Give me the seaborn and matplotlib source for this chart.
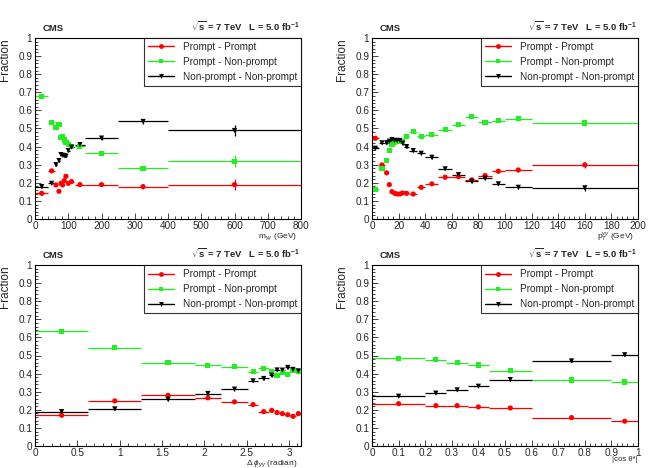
import pandas as pd
import matplotlib
matplotlib.use("Agg")
import matplotlib.pyplot as plt
from matplotlib.lines import Line2D
from matplotlib.ticker import MultipleLocator, FormatStrFormatter
import seaborn as sns

sns.set_theme(style="white")
plt.rcParams.update({
    'font.family': ['Liberation Sans', 'DejaVu Sans'],
    'font.size': 7,
    'mathtext.fontset': 'custom',
    'mathtext.rm': 'Liberation Sans',
    'mathtext.it': 'Liberation Sans:italic',
    'mathtext.bf': 'Liberation Sans:bold',
})

SERIES = ["Prompt - Prompt", "Prompt - Non-prompt", "Non-prompt - Non-prompt"]
COLORS = {"Prompt - Prompt": "#ff0000", "Prompt - Non-prompt": "#22ee22",
          "Non-prompt - Non-prompt": "#000000"}
MARKERS = {"Prompt - Prompt": "o", "Prompt - Non-prompt": "s",
           "Non-prompt - Non-prompt": "v"}

# --- panel 1: diphoton mass
mgg_x = [20, 50, 63, 72, 78, 83, 88, 93, 100, 110, 135, 200, 325, 600]
mgg_xerr = [20, 10, 3, 3, 2.5, 2.5, 2.5, 2.5, 5, 6, 15, 50, 75, 200]
mgg_pp = [0.142, 0.266, 0.188, 0.153, 0.197, 0.188, 0.212, 0.236, 0.197, 0.207, 0.190, 0.190, 0.179, 0.190]
mgg_pf = [0.679, 0.535, 0.507, 0.522, 0.452, 0.456, 0.437, 0.424, 0.411, 0.400, 0.402, 0.362, 0.280, 0.319]
mgg_ff = [0.179, 0.197, 0.300, 0.323, 0.356, 0.352, 0.350, 0.347, 0.378, 0.397, 0.411, 0.447, 0.539, 0.489]
mgg_yerr = [0.008, 0.006, 0.006, 0.006, 0.005, 0.005, 0.005, 0.005, 0.005, 0.005, 0.006, 0.008, 0.012, 0.032]

# --- panel 2: diphoton pT
pt_x = [2.5, 7.5, 11, 13, 15, 17, 19, 21, 23, 26, 31, 37, 45, 55, 65, 75, 85, 95, 110, 160]
pt_xerr = [2.5, 2.5, 1, 1, 1, 1, 1, 1, 1, 2, 3, 3, 5, 5, 5, 5, 5, 5, 10, 40]
pt_pp = [0.446, 0.299, 0.255, 0.190, 0.151, 0.142, 0.138, 0.138, 0.144, 0.142, 0.138, 0.175, 0.194,
         0.231, 0.234, 0.216, 0.240, 0.264, 0.271, 0.299]
pt_pf = [0.164, 0.280, 0.323, 0.378, 0.411, 0.424, 0.428, 0.428, 0.428, 0.458, 0.483, 0.458, 0.465,
         0.493, 0.520, 0.566, 0.535, 0.544, 0.554, 0.530]
pt_ff = [0.391, 0.421, 0.421, 0.430, 0.439, 0.434, 0.434, 0.434, 0.419, 0.400, 0.378, 0.363, 0.341,
         0.277, 0.245, 0.208, 0.225, 0.194, 0.175, 0.172]
pt_yerr = [0.008] * 18 + [0.012, 0.015]

# --- panel 3: delta phi
dphi_x = [0.314, 0.942, 1.571, 2.042, 2.356, 2.576, 2.701, 2.796, 2.859, 2.922, 2.985, 3.047, 3.110]
dphi_xerr = [0.314, 0.314, 0.314, 0.157, 0.157, 0.063, 0.063, 0.031, 0.031, 0.031, 0.031, 0.031, 0.031]
dphi_pp = [0.170, 0.249, 0.280, 0.266, 0.244, 0.229, 0.190, 0.197, 0.185, 0.179, 0.173, 0.164, 0.179]
dphi_pf = [0.633, 0.542, 0.461, 0.445, 0.439, 0.410, 0.430, 0.410, 0.390, 0.404, 0.393, 0.415, 0.410]
dphi_ff = [0.190, 0.205, 0.258, 0.290, 0.314, 0.360, 0.373, 0.391, 0.420, 0.419, 0.434, 0.423, 0.415]
dphi_yerr = [0.008] * 13

# --- panel 4: |cos theta*|
cos_x = [0.10, 0.24, 0.32, 0.40, 0.52, 0.75, 0.95]
cos_xerr = [0.10, 0.04, 0.04, 0.04, 0.08, 0.15, 0.05]
cos_pp = [0.234, 0.223, 0.223, 0.216, 0.210, 0.157, 0.137]
cos_pf = [0.485, 0.476, 0.461, 0.448, 0.415, 0.365, 0.354]
cos_ff = [0.275, 0.292, 0.310, 0.330, 0.367, 0.470, 0.504]
cos_yerr = [0.006] * 7

panels = [
    dict(x=mgg_x, xerr=mgg_xerr, yerr=mgg_yerr, vals=[mgg_pp, mgg_pf, mgg_ff],
         xlim=(0, 800), major=100, minor=20, labx=0.985, laby=-0.066, labsize=6,
         xlabel=r"m$_{\gamma\gamma}$ (GeV)", pos=(35, 38)),
    dict(x=pt_x, xerr=pt_xerr, yerr=pt_yerr, vals=[pt_pp, pt_pf, pt_ff],
         xlim=(0, 200), major=20, minor=4, labx=0.985, laby=-0.066, labsize=6,
         xlabel=r"p$_{T}^{\gamma\gamma}$ (GeV)", pos=(372, 38)),
    dict(x=dphi_x, xerr=dphi_xerr, yerr=dphi_yerr, vals=[dphi_pp, dphi_pf, dphi_ff],
         xlim=(0, 3.1416), major=0.5, minor=0.1, labx=0.985, laby=-0.066, labsize=6,
         xlabel=r"$\Delta$ $\phi_{\gamma\gamma}$ (radian)", pos=(35, 265)),
    dict(x=cos_x, xerr=cos_xerr, yerr=cos_yerr, vals=[cos_pp, cos_pf, cos_ff],
         xlim=(0, 1), major=0.1, minor=0.02, labx=1.0, laby=-0.058, labsize=5.6,
         xlabel="|cos θ*|", pos=(372, 265)),
]

W, H = 649, 468
fig = plt.figure(figsize=(W / 100, H / 100), dpi=100)

for p in panels:
    left, top = p['pos']
    ax = fig.add_axes([left / W, 1 - (top + 181) / H, 266 / W, 181 / H])

    rows = []
    for name, vals in zip(SERIES, p['vals']):
        for xv, yv in zip(p['x'], vals):
            rows.append({'x': xv, 'y': yv, 'series': name})
    df = pd.DataFrame(rows)

    for name, vals in zip(SERIES, p['vals']):
        ax.errorbar(p['x'], vals, xerr=p['xerr'], yerr=p['yerr'], fmt='none',
                    ecolor=COLORS[name], elinewidth=0.9, capsize=0, zorder=2)
    sns.scatterplot(data=df, x='x', y='y', hue='series', style='series',
                    palette=COLORS, markers=MARKERS, s=14, linewidth=0,
                    legend=False, ax=ax, zorder=3)

    ax.set_xlim(*p['xlim'])
    ax.set_ylim(0, 1)
    ax.xaxis.set_major_locator(MultipleLocator(p['major']))
    ax.xaxis.set_minor_locator(MultipleLocator(p['minor']))
    ax.yaxis.set_major_locator(MultipleLocator(0.1))
    ax.yaxis.set_minor_locator(MultipleLocator(0.02))
    ax.xaxis.set_major_formatter(FormatStrFormatter('%g'))
    ax.yaxis.set_major_formatter(FormatStrFormatter('%g'))
    ax.tick_params(which='both', direction='in', top=False, right=False,
                   bottom=True, left=True, labelsize=7.2, pad=2, width=0.6)
    ax.tick_params(axis='x', pad=1.5)
    ax.tick_params(which='major', length=4.5)
    ax.tick_params(which='minor', length=2.2)
    for sp in ax.spines.values():
        sp.set_color('black')
        sp.set_linewidth(0.8)

    ax.set_xlabel('')
    ax.set_ylabel('Fraction', fontsize=8.5, loc='top', labelpad=5)
    ax.text(p['labx'], p['laby'], p['xlabel'], transform=ax.transAxes, ha='right', va='top',
            fontsize=p['labsize'])

    ax.text(0.03, 1.025, 'CMS', transform=ax.transAxes, ha='left', va='bottom',
            fontsize=6.8, fontweight='bold')
    ax.text(0.995, 1.025, r"$\sqrt{\mathbf{s}}$ = 7 TeV   L = 5.0 fb$^{\mathbf{-1}}$",
            transform=ax.transAxes, ha='right', va='bottom', fontsize=6.8, fontweight='bold')

    handles = [Line2D([0], [0], color=COLORS[n], marker=MARKERS[n], markersize=3.5,
                      markeredgewidth=0, lw=1) for n in SERIES]
    leg = ax.legend(handles, SERIES, loc='upper right', bbox_to_anchor=(1.0, 1.0),
                    borderaxespad=0, frameon=True, fancybox=False, fontsize=7.2,
                    handlelength=2.6, handletextpad=0.9, borderpad=0.4,
                    labelspacing=0.5)
    leg.get_frame().set_edgecolor('black')
    leg.get_frame().set_linewidth(0.8)

plt.savefig('out.png', dpi=100)
